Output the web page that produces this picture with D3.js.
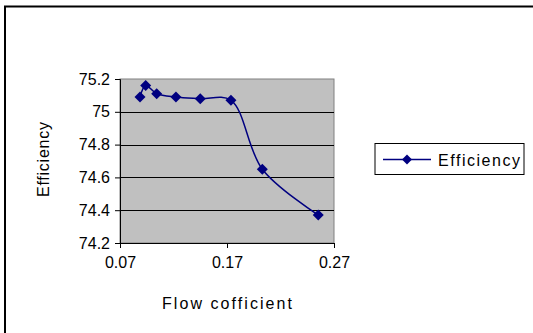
<!DOCTYPE html>
<html>
<head>
<meta charset="utf-8">
<script src="https://cdn.jsdelivr.net/npm/d3@7"></script>
<style>
  body { margin: 0; background: #fff; }
  text { font-family: "Liberation Sans", Arial, sans-serif; fill: #000; }
</style>
</head>
<body>
<div id="chart"></div>
<script>
// data
var flowCoeff = [0.0887, 0.094, 0.1043, 0.1223, 0.145, 0.1737, 0.203, 0.2553];
var efficiency = [75.09, 75.16, 75.11, 75.09, 75.08, 75.07, 74.65, 74.37];
var xTicks = [0.07, 0.17, 0.27];
var yTicks = [74.2, 74.4, 74.6, 74.8, 75, 75.2];
var seriesName = "Efficiency";

var width = 533, height = 333;
var plot = {left: 120, top: 79, right: 334, bottom: 243};

var svg = d3.select("#chart").append("svg")
    .attr("width", width)
    .attr("height", height);

// outer chart frame (runs off the right and bottom edges)
svg.append("rect")
    .attr("x", 5).attr("y", 6.5)
    .attr("width", 540).attr("height", 340)
    .attr("fill", "none")
    .attr("stroke", "#000")
    .attr("stroke-width", 2);

var x = d3.scaleLinear().domain([0.07, 0.27]).range([plot.left, plot.right]);
var y = d3.scaleLinear().domain([74.2, 75.2]).range([plot.bottom, plot.top]);

// plot area
svg.append("rect")
    .attr("x", plot.left).attr("y", plot.top)
    .attr("width", plot.right - plot.left)
    .attr("height", plot.bottom - plot.top)
    .attr("fill", "#c0c0c0")
    .attr("stroke", "#808080")
    .attr("stroke-width", 1);

// gridlines
svg.selectAll("line.grid")
    .data(yTicks.filter(function(d) { return d > 74.2 && d < 75.2; }))
    .enter().append("line")
    .attr("class", "grid")
    .attr("x1", plot.left).attr("x2", plot.right)
    .attr("y1", function(d) { return Math.round(y(d)) + 0.5; })
    .attr("y2", function(d) { return Math.round(y(d)) + 0.5; })
    .attr("stroke", "#000")
    .attr("stroke-width", 1);

// axes
var yAxis = d3.axisLeft(y).tickValues(yTicks).tickSize(5).tickPadding(5)
    .tickFormat(function(d) { return d3.format("")(+d.toFixed(1)); });
var gy = svg.append("g")
    .attr("transform", "translate(" + plot.left + ",0)")
    .call(yAxis);

var xAxis = d3.axisBottom(x).tickValues(xTicks).tickSize(5).tickPadding(9)
    .tickFormat(d3.format(".2f"));
var gx = svg.append("g")
    .attr("transform", "translate(0," + plot.bottom + ")")
    .call(xAxis);

[gx, gy].forEach(function(g) {
    g.select(".domain").attr("stroke", "#000");
    g.selectAll(".tick line").attr("stroke", "#000");
    g.selectAll(".tick text")
        .style("font-family", "'Liberation Sans', Arial, sans-serif")
        .style("font-size", "16px")
        .attr("fill", "#000");
});

// axis titles
svg.append("text")
    .attr("transform", "translate(48.5,159.5) rotate(-90)")
    .attr("text-anchor", "middle")
    .attr("textLength", 75)
    .attr("lengthAdjust", "spacing")
    .style("font-size", "16px")
    .text("Efficiency");

svg.append("text")
    .attr("x", 227).attr("y", 309)
    .attr("text-anchor", "middle")
    .attr("textLength", 130)
    .attr("lengthAdjust", "spacing")
    .style("font-size", "16px")
    .text("Flow cofficient");

// series line (smoothed)
var pts = flowCoeff.map(function(d, i) { return [d, efficiency[i]]; });
var line = d3.line()
    .x(function(d) { return x(d[0]); })
    .y(function(d) { return y(d[1]); })
    .curve(d3.curveCatmullRom.alpha(0.5));

svg.append("path")
    .datum(pts)
    .attr("d", line)
    .attr("fill", "none")
    .attr("stroke", "#000080")
    .attr("stroke-width", 1.5);

svg.selectAll("path.marker")
    .data(pts)
    .enter().append("path")
    .attr("class", "marker")
    .attr("d", "M0,-5.5L5.5,0L0,5.5L-5.5,0Z")
    .attr("transform", function(d) { return "translate(" + x(d[0]) + "," + y(d[1]) + ")"; })
    .attr("fill", "#000080");

// legend
var lg = svg.append("g").attr("transform", "translate(375,143.5)");
lg.append("rect")
    .attr("width", 149).attr("height", 31)
    .attr("fill", "#fff")
    .attr("stroke", "#000")
    .attr("stroke-width", 1);
lg.append("line")
    .attr("x1", 8).attr("x2", 56)
    .attr("y1", 16).attr("y2", 16)
    .attr("stroke", "#000080")
    .attr("stroke-width", 1.5);
lg.append("path")
    .attr("d", "M0,-5L5,0L0,5L-5,0Z")
    .attr("transform", "translate(32,16)")
    .attr("fill", "#000080");
lg.append("text")
    .attr("x", 63).attr("y", 22.5)
    .attr("textLength", 82)
    .attr("lengthAdjust", "spacing")
    .style("font-size", "16px")
    .text(seriesName);
</script>
</body>
</html>
